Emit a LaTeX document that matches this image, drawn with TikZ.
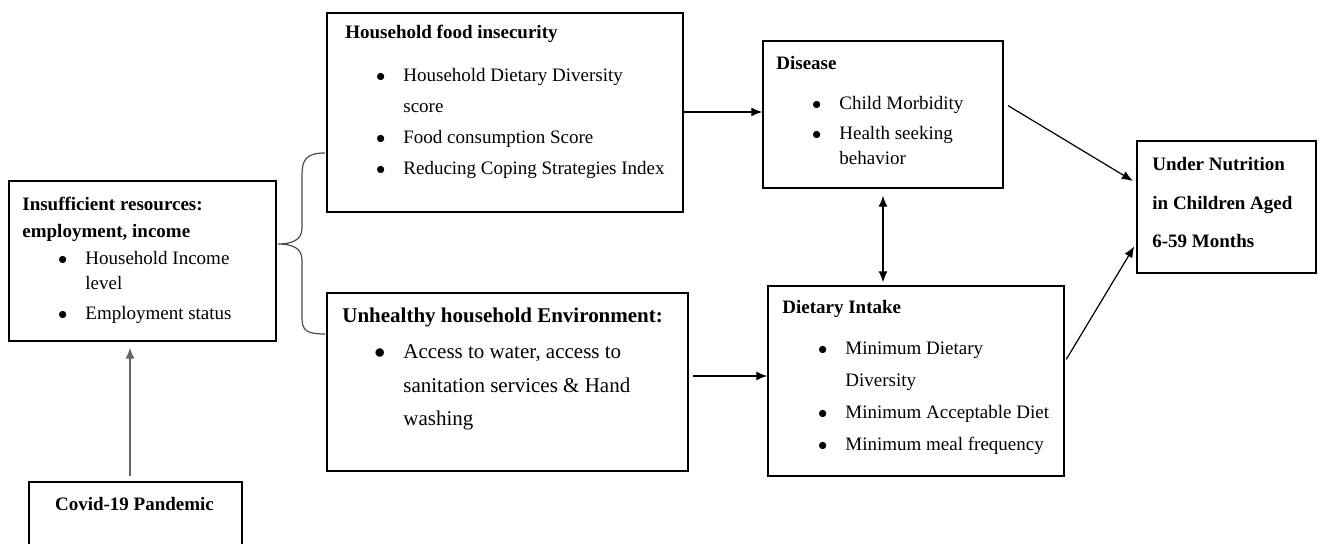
\documentclass[tikz,border=0pt]{standalone}
\usepackage{fontspec}
\setmainfont{Liberation Serif}
\usetikzlibrary{arrows.meta}
\newcommand{\bul}{\llap{$\bullet$\hspace{9pt}}}
\newcommand{\boxlines}[1]{\begin{tabular}[t]{@{}l@{}}#1\end{tabular}}

\begin{document}
\begin{tikzpicture}[x=0.5pt, y=-0.5pt,
		>={Latex[length=5.5pt, width=4.5pt]},
		box/.style={draw, line width=0.7pt, inner sep=0pt},
		txt/.style={anchor=base west, inner sep=0pt},
		arr/.style={line width=0.6pt, ->}]
		\clip (0, 0) rectangle (1324, 544);

		% riquadri
		\node[box, minimum width=133.5pt, minimum height=80pt] (ins) at (142.5, 261) {};
		\node[box, minimum width=106.5pt, minimum height=49pt] (covid) at (135.5, 531) {};
		\node[box, minimum width=178pt, minimum height=99.5pt] (food) at (505, 112.5) {};
		\node[box, minimum width=180.5pt, minimum height=89pt] (unh) at (507.5, 382) {};
		\node[box, minimum width=120pt, minimum height=73.5pt] (dis) at (883, 114.5) {};
		\node[box, minimum width=148pt, minimum height=95pt] (diet) at (916, 381) {};
		\node[box, minimum width=89.5pt, minimum height=66pt] (un) at (1226.5, 207) {};

		% testi
		\node[txt, font=\bfseries\fontsize{9.5}{13.5}\selectfont] (insT) at (22, 211) {\boxlines{Insufficient resources:\\employment, income}};
		\node[txt, font=\fontsize{9.5}{12.5}\selectfont] (insL) at (85, 265) {\boxlines{\bul Household Income\\level\\[2.5pt]\bul Employment status}};
		\node[anchor=base, inner sep=0pt, font=\bfseries\fontsize{9.5}{12}\selectfont] (covidT) at (134.5, 511) {Covid-19 Pandemic};

		\node[txt, font=\bfseries\fontsize{9.5}{12}\selectfont] (foodT) at (345, 39) {Household food insecurity};
		\node[txt, font=\fontsize{9.5}{15.5}\selectfont] (foodL) at (403, 82) {\boxlines{\bul Household Dietary Diversity\\score\\\bul Food consumption Score\\\bul Reducing Coping Strategies Index}};

		\node[txt, font=\bfseries\fontsize{10.5}{12}\selectfont] (unhT) at (342, 323) {Unhealthy household Environment:};
		\node[txt, font=\fontsize{10.5}{16.75}\selectfont] (unhL) at (403, 359) {\boxlines{\bul Access to water, access to\\sanitation services \& Hand\\washing}};

		\node[txt, font=\bfseries\fontsize{9.5}{12}\selectfont] (disT) at (776, 70) {Disease};
		\node[txt, font=\fontsize{9.5}{12.5}\selectfont] (disL) at (839, 110) {\boxlines{\bul Child Morbidity\\[2.5pt]\bul Health seeking\\behavior}};

		\node[txt, font=\bfseries\fontsize{9.5}{12}\selectfont] (dietT) at (782, 314) {Dietary Intake};
		\node[txt, font=\fontsize{9.5}{16}\selectfont] (dietL) at (845, 355) {\boxlines{\bul Minimum Dietary\\Diversity\\\bul Minimum Acceptable Diet\\\bul Minimum meal frequency}};

		\node[txt, font=\bfseries\fontsize{9.5}{19.25}\selectfont] (unT) at (1152, 171) {\boxlines{Under Nutrition\\in Children Aged\\6-59 Months}};

		% graffa
		\draw[black!70, line width=0.6pt] (325, 153) .. controls (306, 153) and (302, 160) .. (302, 175) -- (302, 228)
			.. controls (302, 240) and (292, 244) .. (278, 244)
			.. controls (292, 244) and (302, 248) .. (302, 260) -- (302, 318)
			.. controls (302, 330) and (306, 334) .. (325, 334);

		% frecce
		\draw[arr, draw=black!60, line width=0.7pt, shorten <=2.5pt, shorten >=3pt] ([xshift=-2.75pt]covid.north) -- ([xshift=-6.25pt]ins.south);
		\draw[arr] ([yshift=0.25pt]food.east) -- ([yshift=0.25pt]food.east -| dis.west);
		\draw[arr, shorten <=2pt] ([yshift=3pt]unh.east) -- ([yshift=3pt]unh.east -| diet.west);
		\draw[line width=0.6pt, <->, shorten <=3.5pt, shorten >=1.5pt] (dis.south) -- (dis.south |- diet.north);
		\draw[arr, shorten <=2.5pt, shorten >=2pt] ([yshift=5.75pt]dis.east) -- ([yshift=12pt]un.west);
		\draw[arr, shorten <=1.5pt, shorten >=2pt] ([yshift=9.5pt]diet.east) -- ([yshift=-18pt]un.west);
	\end{tikzpicture}
\end{document}
